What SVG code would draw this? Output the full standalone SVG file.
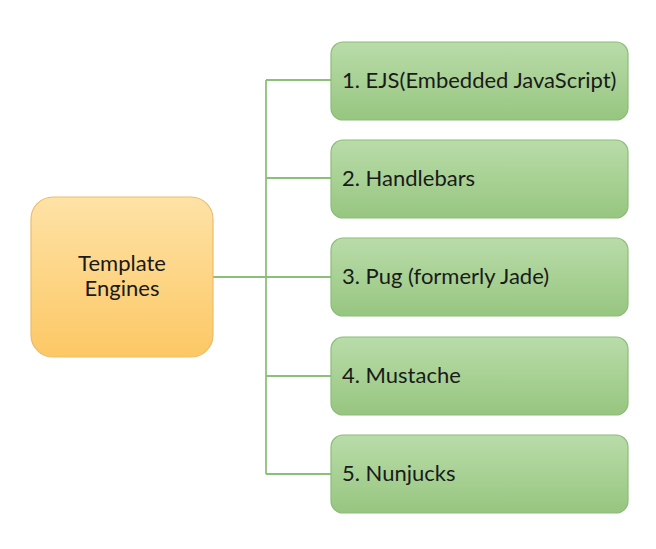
<svg xmlns="http://www.w3.org/2000/svg" width="656" height="549" viewBox="0 0 656 549">
<defs>
<linearGradient id="gOrange" x1="0" y1="0" x2="0" y2="1">
<stop offset="0" stop-color="#fee2a6"/>
<stop offset="1" stop-color="#fcc865"/>
</linearGradient>
<linearGradient id="gGreen" x1="0" y1="0" x2="0" y2="1">
<stop offset="0" stop-color="#b9dca9"/>
<stop offset="1" stop-color="#97c680"/>
</linearGradient>
</defs>
<style>
.item rect{fill:url(#gGreen);stroke:#8cbc78;stroke-width:1.2}
.root rect{fill:url(#gOrange);stroke:#e9bd6c;stroke-width:1.2}
text{font-family:Lato,"Liberation Sans",sans-serif;font-size:22px;fill:#1a1a1a}
.conn{fill:none;stroke:#8cc078;stroke-width:1.8}
</style>
<rect width="656" height="549" fill="#ffffff"/>
<g id="connectors" class="conn">
<path d="M213 277 H331"/>
<path d="M266 80 V474"/>
<path d="M266 80 H331"/>
<path d="M266 178 H331"/>
<path d="M266 376 H331"/>
<path d="M266 474 H331"/>
</g>
<g id="root" class="root">
<rect x="31" y="197" width="182" height="160" rx="22"/>
<text x="122" y="271" text-anchor="middle">Template</text>
<text x="122" y="296" text-anchor="middle">Engines</text>
</g>
<g id="n1" class="item">
<rect x="331" y="42" width="297" height="78" rx="12"/>
<text x="342" y="88">1. EJS(Embedded JavaScript)</text>
</g>
<g id="n2" class="item">
<rect x="331" y="140" width="297" height="78" rx="12"/>
<text x="342" y="186">2. Handlebars</text>
</g>
<g id="n3" class="item">
<rect x="331" y="238" width="297" height="78" rx="12"/>
<text x="342" y="284">3. Pug (formerly Jade)</text>
</g>
<g id="n4" class="item">
<rect x="331" y="337" width="297" height="78" rx="12"/>
<text x="342" y="383">4. Mustache</text>
</g>
<g id="n5" class="item">
<rect x="331" y="435" width="297" height="78" rx="12"/>
<text x="342" y="481">5. Nunjucks</text>
</g>
</svg>
